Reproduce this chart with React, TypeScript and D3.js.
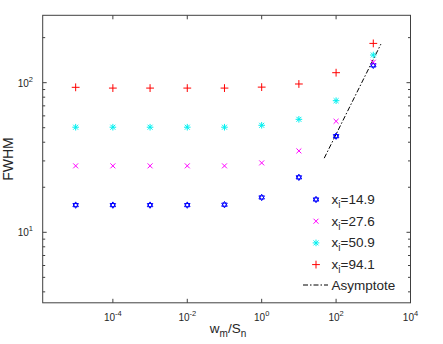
import * as d3 from "d3"

// x positions (w_m / S_n)
const ratios = [1e-5, 1e-4, 1e-3, 1e-2, 1e-1, 1e0, 1e1, 1e2, 1e3]

// FWHM for each x_i
const fwhm149 = [15.2, 15.2, 15.2, 15.2, 15.3, 17.1, 23.3, 43.9, 130.6]
const fwhm276 = [27.8, 27.8, 27.8, 27.8, 27.8, 29.1, 35.0, 55.2, 137]
const fwhm509 = [50.4, 50.4, 50.4, 50.4, 50.4, 51.9, 56.9, 75.8, 153]
const fwhm941 = [93.1, 92, 92, 92, 92, 93.4, 98, 116.6, 183]

const seriesLabels = ["14.9", "27.6", "50.9", "94.1"]
const seriesColors = ["#0000ff", "#ff00ff", "#00f0f0", "#ff0000"]
const seriesMarkers = ["hexagram", "x", "asterisk", "plus"]

// asymptote end points [x, y]
const asymptote: [number, number][] = [[48, 31.3], [1600, 181]]

const xTicks = [1e-4, 1e-2, 1e0, 1e2, 1e4]
const yTicks = [1e1, 1e2]
const yMinor = [4, 5, 6, 7, 8, 9, 20, 30, 40, 50, 60, 70, 80, 90, 200]

const W = 443
const H = 344
const left = 42.7, right = 410.5, top = 15.3, bottom = 302.8

const font = "Arial, 'Liberation Sans', Helvetica, sans-serif"

function markerPath(kind: string) {
  const r = 3.3
  switch (kind) {
    case "plus":
      return `M${-r - 0.6},0H${r + 0.6}M0,${-r - 0.6}V${r + 0.6}`
    case "x":
      return `M${-r * 0.75},${-r * 0.75}L${r * 0.75},${r * 0.75}M${-r * 0.75},${r * 0.75}L${r * 0.75},${-r * 0.75}`
    case "asterisk": {
      const a = r * 0.75
      return `M${-r},0H${r}M0,${-r}V${r}M${-a},${-a}L${a},${a}M${-a},${a}L${a},${-a}`
    }
    default: {
      // hexagram: two triangles
      const R = 3.2
      const tri = (o: number) =>
        d3.range(3).map(k => {
          const ang = o + (k * 2 * Math.PI) / 3
          return [R * Math.sin(ang), -R * Math.cos(ang)]
        })
      const t1 = tri(0), t2 = tri(Math.PI)
      return `M${t1.map(p => p.join(",")).join("L")}Z M${t2.map(p => p.join(",")).join("L")}Z`
    }
  }
}

const sup = (e: number) => (e < 0 ? "-" + Math.abs(e) : String(e))

export default function App() {
  const x = d3.scaleLog().domain([1.3e-6, 1e4]).range([left, right])
  const y = d3.scaleLog().domain([3.38, 282]).range([bottom, top])
  const all = [fwhm149, fwhm276, fwhm509, fwhm941]
  const line = d3.line<[number, number]>().x(d => x(d[0])).y(d => y(d[1]))
  const axisColor = "#404040"
  const textColor = "#262626"

  return (
    <svg width={W} height={H} style={{ position: "absolute", left: 0, top: 0, background: "#fff" }} fontFamily={font}>
      <rect x={left} y={top} width={right - left} height={bottom - top} fill="#fff" stroke={axisColor} strokeWidth={1} />
      {xTicks.map(t => (
        <g key={"xt" + t}>
          <line x1={x(t)} x2={x(t)} y1={bottom} y2={bottom - 4} stroke={axisColor} />
          <line x1={x(t)} x2={x(t)} y1={top} y2={top + 4} stroke={axisColor} />
          <text x={x(t)} y={321} textAnchor="middle" fontSize={10} fill={textColor}>
            10<tspan fontSize={7.5} dy={-5}>{sup(Math.round(Math.log10(t)))}</tspan>
          </text>
        </g>
      ))}
      {yTicks.map(t => (
        <g key={"yt" + t}>
          <line x1={left} x2={left + 4} y1={y(t)} y2={y(t)} stroke={axisColor} />
          <line x1={right} x2={right - 4} y1={y(t)} y2={y(t)} stroke={axisColor} />
          <text x={33} y={y(t) + 4} textAnchor="end" fontSize={10} fill={textColor}>
            10<tspan fontSize={7.5} dy={-5}>{sup(Math.round(Math.log10(t)))}</tspan>
          </text>
        </g>
      ))}
      {yMinor.map(t => (
        <g key={"ym" + t}>
          <line x1={left} x2={left + 2.5} y1={y(t)} y2={y(t)} stroke={axisColor} />
          <line x1={right} x2={right - 2.5} y1={y(t)} y2={y(t)} stroke={axisColor} />
        </g>
      ))}
      <path d={line(asymptote) || ""} fill="none" stroke="#000" strokeWidth={1} strokeDasharray="5,2,1.5,2" />
      {all.map((vals, si) => (
        <g key={"s" + si} stroke={seriesColors[si]} fill="none" strokeWidth={1}>
          {vals.map((v, i) => (
            <path key={i} d={markerPath(seriesMarkers[si])} transform={`translate(${x(ratios[i])},${y(v)})`} />
          ))}
        </g>
      ))}
      {/* legend */}
      {seriesLabels.map((lab, i) => {
        const ly = 199.5 + i * 21.7
        return (
          <g key={"lg" + i}>
            <path d={markerPath(seriesMarkers[i])} transform={`translate(316,${ly})`} stroke={seriesColors[i]} fill="none" />
            <text x={331.5} y={ly + 4.5} fontSize={13.5} fill={textColor}>
              x<tspan fontSize={10} dy={4}>i</tspan><tspan dy={-4}>={lab}</tspan>
            </text>
          </g>
        )
      })}
      <line x1={303} x2={328} y1={285} y2={285} stroke="#000" strokeDasharray="5,2,1.5,2" />
      <text x={331.5} y={289.5} fontSize={13.5} fill={textColor}>Asymptote</text>
      {/* axis labels */}
      <text transform="translate(13,159) rotate(-90)" textAnchor="middle" fontSize={14} fill={textColor}>FWHM</text>
      <text x={228} y={333} textAnchor="middle" fontSize={13.5} fill={textColor}>
        w<tspan fontSize={10} dy={4}>m</tspan><tspan dy={-4}>/S</tspan><tspan fontSize={10} dy={4}>n</tspan>
      </text>
    </svg>
  )
}
